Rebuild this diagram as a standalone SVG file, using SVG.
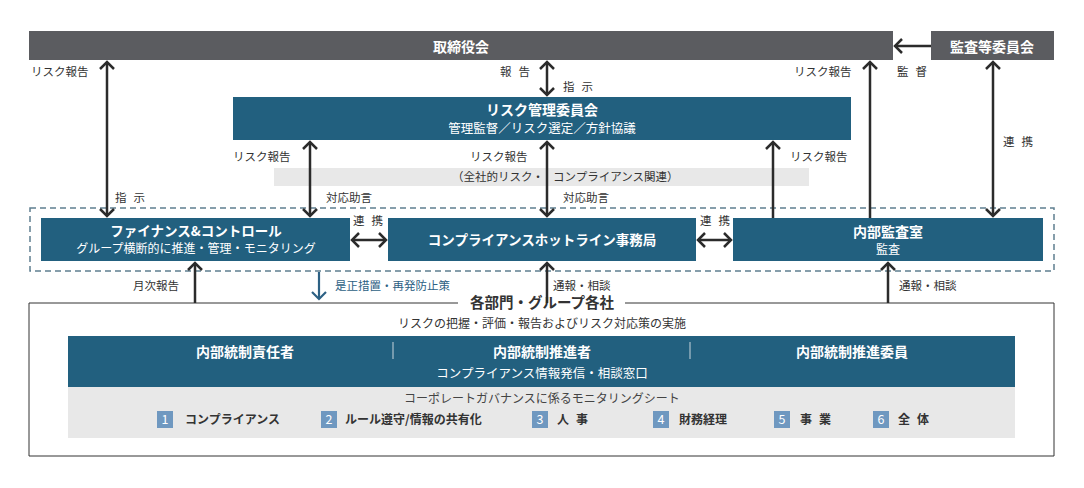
<svg xmlns="http://www.w3.org/2000/svg" width="1084" height="488" viewBox="0 0 1084 488">
<style>
text{font-family:"Noto Sans CJK JP","Noto Sans",sans-serif;}
.lbl{font-size:11.5px;fill:#333;}
.sp{letter-spacing:7px;}
.wt{fill:#fff;text-anchor:middle;}
.b{font-weight:bold;}
.gray{fill:#5b5c60;}
.blue{fill:#22607f;}
.ln{stroke:#2b2b2b;stroke-width:2.5;fill:none;}
.item{font-size:12px;font-weight:bold;fill:#333;}
.num{fill:#6f98c0;}
.nt{font-size:12.5px;fill:#fff;text-anchor:middle;}
</style>
<defs>
<marker id="ah" viewBox="-9 -9 11 18" refX="0" refY="0" markerWidth="11" markerHeight="18" markerUnits="userSpaceOnUse" orient="auto-start-reverse">
<path d="M-7,-7 L0,0 L-7,7" fill="none" stroke="#2b2b2b" stroke-width="2.5"/>
</marker>
<marker id="ahb" viewBox="-9 -9 11 18" refX="0" refY="0" markerWidth="11" markerHeight="18" markerUnits="userSpaceOnUse" orient="auto-start-reverse">
<path d="M-7,-7 L0,0 L-7,7" fill="none" stroke="#2d6184" stroke-width="2.2"/>
</marker>
</defs>
<rect width="1084" height="488" fill="#fff"/>

<g id="board">
<rect class="gray" x="29" y="31" width="864" height="29"/>
<text class="wt b" x="461" y="52" font-size="14">取締役会</text>
</g>
<g id="audit-committee">
<rect class="gray" x="931" y="31" width="123" height="29"/>
<text class="wt b" x="992" y="52" font-size="14">監査等委員会</text>
</g>
<g id="risk-committee">
<rect class="blue" x="233" y="97" width="618" height="43"/>
<text class="wt b" x="542" y="115" font-size="14">リスク管理委員会</text>
<text class="wt" x="542" y="133" font-size="12.5">管理監督／リスク選定／方針協議</text>
</g>
<g id="scope-band">
<rect x="274" y="168" width="535" height="18" fill="#e8e8e8"/>
<text class="lbl" x="452" y="181" font-size="12">（全社的リスク・</text>
<text class="lbl" x="553" y="181" font-size="12">コンプライアンス関連）</text>
</g>
<g id="group-frame">
<rect x="30" y="208" width="1024" height="63" fill="none" stroke="#5f7f90" stroke-width="1.5" stroke-dasharray="6,4"/>
</g>
<g id="finance-control">
<rect class="blue" x="41" y="218" width="309" height="43"/>
<text class="wt b" x="196" y="236" font-size="13.5">ファイナンス&amp;コントロール</text>
<text class="wt" x="196" y="253" font-size="12">グループ横断的に推進・管理・モニタリング</text>
</g>
<g id="hotline">
<rect class="blue" x="388" y="218" width="308" height="43"/>
<text class="wt b" x="542" y="245" font-size="13.5">コンプライアンスホットライン事務局</text>
</g>
<g id="internal-audit">
<rect class="blue" x="733" y="218" width="310" height="43"/>
<text class="wt b" x="888" y="237" font-size="14">内部監査室</text>
<text class="wt" x="888" y="254" font-size="12">監査</text>
</g>
<g id="departments">
<path d="M458,303 H29 V456 H1054 V303 H625" fill="none" stroke="#333" stroke-width="1"/>
<text x="542" y="308" font-size="14.5" font-weight="bold" fill="#333" text-anchor="middle">各部門・グループ各社</text>
<text x="542" y="328" font-size="12" fill="#333" text-anchor="middle">リスクの把握・評価・報告およびリスク対応策の実施</text>
<rect class="blue" x="68" y="336" width="947" height="51"/>
<line x1="393" y1="342" x2="393" y2="359" stroke="#c8d4dc" stroke-width="1"/>
<line x1="690" y1="342" x2="690" y2="359" stroke="#c8d4dc" stroke-width="1"/>
<text class="wt" x="245" y="357" font-size="14" font-weight="bold">内部統制責任者</text>
<text class="wt" x="542" y="357" font-size="14" font-weight="bold">内部統制推進者</text>
<text class="wt" x="852" y="357" font-size="14" font-weight="bold">内部統制推進委員</text>
<text class="wt" x="542" y="378" font-size="12.5">コンプライアンス情報発信・相談窓口</text>
<rect x="68" y="387" width="947" height="51" fill="#e8e8e8"/>
<text x="542" y="403" font-size="12" fill="#444" text-anchor="middle">コーポレートガバナンスに係るモニタリングシート</text>
<rect class="num" x="157" y="411" width="16" height="17"/><text class="nt" x="165" y="424">1</text>
<text class="item" x="185" y="424">コンプライアンス</text>
<rect class="num" x="321" y="411" width="16" height="17"/><text class="nt" x="329" y="424">2</text>
<text class="item" x="345" y="424">ルール遵守/情報の共有化</text>
<rect class="num" x="532" y="411" width="16" height="17"/><text class="nt" x="540" y="424">3</text>
<text class="item sp" x="557" y="424">人事</text>
<rect class="num" x="653" y="411" width="16" height="17"/><text class="nt" x="661" y="424">4</text>
<text class="item" x="679" y="424">財務経理</text>
<rect class="num" x="774" y="411" width="16" height="17"/><text class="nt" x="782" y="424">5</text>
<text class="item sp" x="800" y="424">事業</text>
<rect class="num" x="873" y="411" width="16" height="17"/><text class="nt" x="881" y="424">6</text>
<text class="item sp" x="898" y="424">全体</text>
</g>

<g id="connectors">
<line class="ln" x1="107" y1="62" x2="107" y2="216" marker-start="url(#ah)" marker-end="url(#ah)"/>
<line class="ln" x1="547" y1="62" x2="547" y2="95" marker-start="url(#ah)" marker-end="url(#ah)"/>
<line class="ln" x1="310" y1="142" x2="310" y2="216" marker-start="url(#ah)" marker-end="url(#ah)"/>
<line class="ln" x1="547" y1="142" x2="547" y2="216" marker-start="url(#ah)" marker-end="url(#ah)"/>
<line class="ln" x1="773" y1="218" x2="773" y2="142" marker-end="url(#ah)"/>
<line class="ln" x1="870" y1="218" x2="870" y2="62" marker-end="url(#ah)"/>
<line class="ln" x1="993" y1="62" x2="993" y2="216" marker-start="url(#ah)" marker-end="url(#ah)"/>
<line class="ln" x1="931" y1="46" x2="895" y2="46" marker-end="url(#ah)"/>
<line class="ln" x1="352" y1="240" x2="386" y2="240" marker-start="url(#ah)" marker-end="url(#ah)"/>
<line class="ln" x1="698" y1="240" x2="731" y2="240" marker-start="url(#ah)" marker-end="url(#ah)"/>
<line class="ln" x1="195" y1="303" x2="195" y2="263" marker-end="url(#ah)"/>
<line class="ln" x1="547" y1="303" x2="547" y2="263" marker-end="url(#ah)"/>
<line class="ln" x1="888" y1="303" x2="888" y2="263" marker-end="url(#ah)"/>
<line x1="319" y1="272" x2="319" y2="299" stroke="#2d6184" stroke-width="2.2" marker-end="url(#ahb)"/>

<text class="lbl" x="31" y="76">リスク報告</text>
<text class="lbl sp" x="500" y="76">報告</text>
<text class="lbl sp" x="563" y="91">指示</text>
<text class="lbl" x="794" y="76">リスク報告</text>
<text class="lbl sp" x="897" y="76">監督</text>
<text class="lbl sp" x="1003" y="146">連携</text>
<text class="lbl" x="233" y="161">リスク報告</text>
<text class="lbl" x="470" y="161">リスク報告</text>
<text class="lbl" x="790" y="161">リスク報告</text>
<text class="lbl sp" x="115" y="202">指示</text>
<text class="lbl" x="326" y="202">対応助言</text>
<text class="lbl" x="563" y="202">対応助言</text>
<text class="lbl sp" x="353" y="225">連携</text>
<text class="lbl sp" x="700" y="225">連携</text>
<text class="lbl" x="133" y="290">月次報告</text>
<text class="lbl" x="335" y="290" style="fill:#2d6184">是正措置・再発防止策</text>
<text class="lbl" x="553" y="290">通報・相談</text>
<text class="lbl" x="899" y="290">通報・相談</text>
</g>
</svg>
